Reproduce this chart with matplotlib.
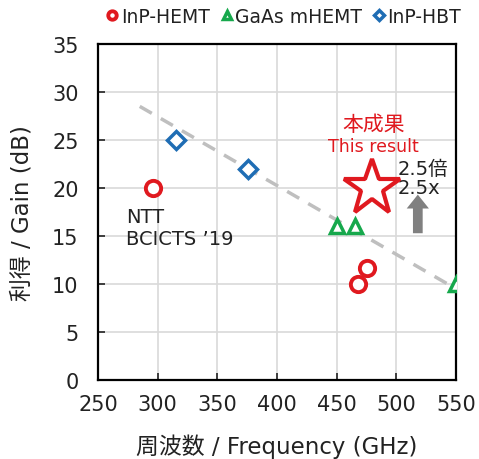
import matplotlib
matplotlib.use("Agg")
import matplotlib.pyplot as plt

plt.rcParams['font.family'] = ['DejaVu Sans', 'Noto Sans CJK JP']

inp_hemt_x = [296, 468, 475]
inp_hemt_y = [20, 10, 11.7]
gaas_x = [450, 465, 550]
gaas_y = [16, 16, 10]
hbt_x = [315, 376]
hbt_y = [25, 22]
this_x = [480]
this_y = [20]
trend_x = [285, 550]
trend_y = [28.5, 9.5]
arrow_x = 518
arrow_y = [15, 19.6]

xticks = [250, 300, 350, 400, 450, 500, 550]
yticks = [0, 5, 10, 15, 20, 25, 30, 35]

red = '#e0191f'
green = '#16a84c'
blue = '#1f6db4'
txt = '#222222'

fig = plt.figure(figsize=(4.79, 4.60), dpi=100)
ax = fig.add_axes([98/479, 1-381/460, (456-98)/479, (381-45)/460])

ax.plot(trend_x, trend_y, ls=(0, (4, 3)), color='#bfbfbf', lw=2.5, zorder=2)

ax.plot(inp_hemt_x, inp_hemt_y, 'o', ms=11, mfc='white', mec=red, mew=2.8, ls='none',
        label='InP-HEMT', zorder=4)
ax.plot(gaas_x, gaas_y, '^', ms=10, mfc='white', mec=green, mew=2.5, ls='none',
        label='GaAs mHEMT', zorder=4)
ax.plot(hbt_x, hbt_y, 'D', ms=9, mfc='white', mec=blue, mew=2.5, ls='none',
        label='InP-HBT', zorder=4)
ax.plot(this_x, this_y, '*', ms=42, mfc='white', mec=red, mew=3, ls='none', zorder=5)

ax.annotate('', xy=(arrow_x, arrow_y[1]), xytext=(arrow_x, arrow_y[0]),
            arrowprops=dict(arrowstyle='simple,head_width=1.6,head_length=1.0,tail_width=0.7',
                            color='#808080', lw=0), zorder=4)

ax.text(481, 26.7, '本成果', color=red, fontsize=15, ha='center', va='center')
ax.text(481, 24.4, 'This result', color=red, fontsize=12.5, ha='center', va='center')
ax.text(501, 21.05, '2.5倍\n2.5x', color=txt, fontsize=14, ha='left', va='center',
        linespacing=0.95)
ax.text(273.5, 15.9, 'NTT\nBCICTS \u201919', color=txt, fontsize=14, ha='left', va='center',
        linespacing=1.2)

ax.set_xlim(250, 550)
ax.set_ylim(0, 35)
ax.set_xticks(xticks)
ax.set_yticks(yticks)
ax.grid(True, color='#d9d9d9', lw=1.2)
ax.set_axisbelow(True)
ax.tick_params(direction='in', length=5, width=1.2, labelsize=15, colors=txt)
ax.tick_params(axis='x', pad=10)
ax.tick_params(axis='y', pad=14)
for s in ax.spines.values():
    s.set_linewidth(1.6)
    s.set_color('black')

ax.set_xlabel('周波数 / Frequency (GHz)', fontsize=16.5, color=txt, labelpad=14)
ax.set_ylabel('利得 / Gain (dB)', fontsize=16.5, color=txt, labelpad=13)

fig.legend(loc='upper center', bbox_to_anchor=(0.59, 1.02), ncol=3, frameon=False,
           fontsize=13.5, handletextpad=0.0, columnspacing=0.45, markerscale=0.55,
           handlelength=0.9, labelcolor=txt)

fig.savefig('out.png', dpi=100)
